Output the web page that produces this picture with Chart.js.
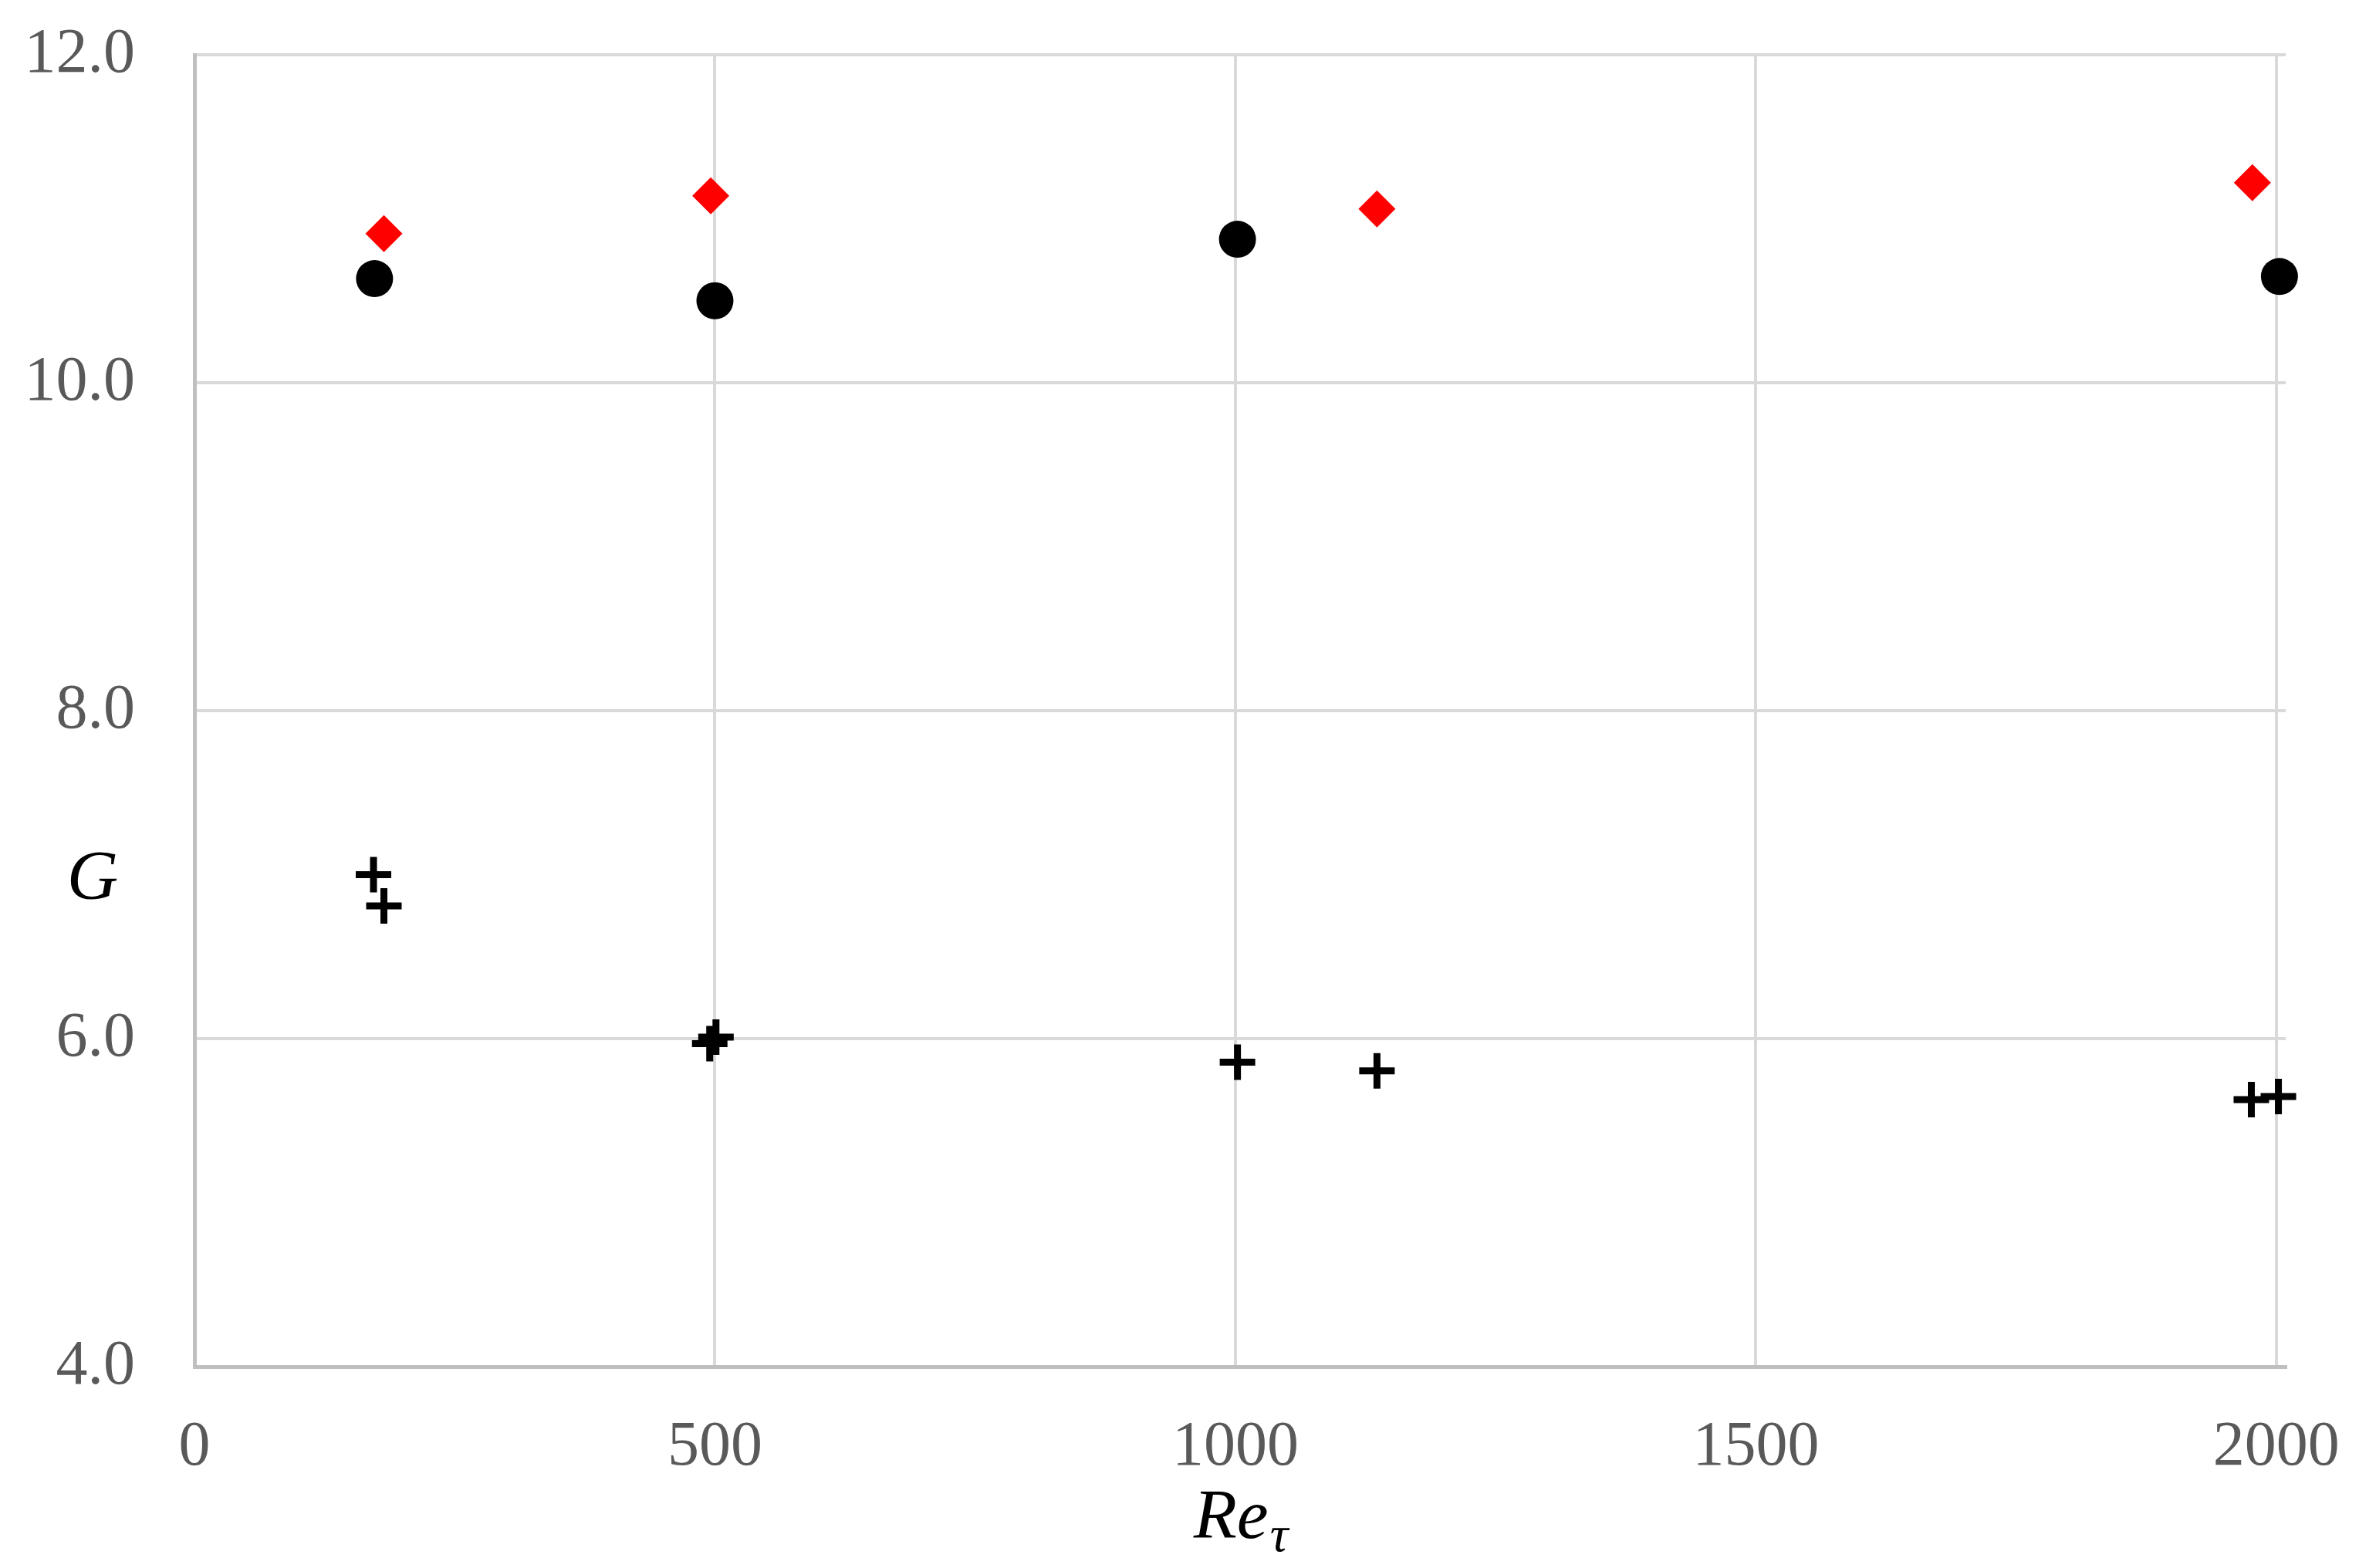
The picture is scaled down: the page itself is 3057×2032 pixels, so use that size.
<!DOCTYPE html>
<html>
<head>
<meta charset="utf-8">
<script src="https://cdn.jsdelivr.net/npm/chart.js@4.4.1/dist/chart.umd.min.js"></script>
<style>
  html, body { margin: 0; padding: 0; background: #ffffff; }
  #c { display: block; }
</style>
</head>
<body>
<canvas id="c" width="3057" height="2032" style="width:3057px;height:2032px"></canvas>
<script>
// ---- data ----
const circleX = [173, 500, 1002, 2003];
const circleY = [10.635, 10.50, 10.875, 10.648];

const diamondX = [182, 496, 1136, 1977];
const diamondY = [10.91, 11.14, 11.06, 11.22];

const crossX = [172, 182, 495, 501, 1002, 1136, 1976, 2002];
const crossY = [7.00, 6.81, 5.97, 6.01, 5.856, 5.804, 5.628, 5.647];

const xTicks = [0, 500, 1000, 1500, 2000];
const yTicks = [4, 6, 8, 10, 12];

const xTitleMain = 'Re';
const xTitleSub = 'τ';
const yTitle = 'G';

function pts(xs, ys) { return xs.map((x, i) => ({ x: x, y: ys[i] })); }

function zeroPad(scale) {
  scale.paddingTop = 0;
  scale.paddingBottom = 0;
  scale.paddingLeft = 0;
  scale.paddingRight = 0;
}

const titlesPlugin = {
  id: 'titles',
  afterDraw(chart) {
    const ctx = chart.ctx;
    const ca = chart.chartArea;
    ctx.save();
    ctx.fillStyle = '#000000';
    ctx.textBaseline = 'alphabetic';
    ctx.font = 'italic 92px "Liberation Serif"';
    const wMain = ctx.measureText(xTitleMain).width;
    ctx.font = 'italic 66px "Liberation Serif"';
    const wSub = ctx.measureText(xTitleSub).width;
    const total = wMain + wSub;
    const cx = (ca.left + ca.right) / 2;
    const x0 = cx - total / 2;
    ctx.font = 'italic 92px "Liberation Serif"';
    ctx.textAlign = 'left';
    ctx.fillText(xTitleMain, x0, 1993);
    ctx.font = 'italic 66px "Liberation Serif"';
    ctx.fillText(xTitleSub, x0 + wMain + 2, 2010);
    ctx.font = 'italic 92px "Liberation Serif"';
    ctx.textAlign = 'center';
    ctx.fillText(yTitle, 120, 1165);
    ctx.restore();
  }
};

new Chart(document.getElementById('c'), {
  type: 'scatter',
  data: {
    datasets: [
      {
        label: 'circles',
        data: pts(circleX, circleY),
        pointStyle: 'circle',
        pointRadius: 24,
        pointBackgroundColor: '#000000',
        pointBorderColor: '#000000',
        pointBorderWidth: 0,
        clip: false
      },
      {
        label: 'diamonds',
        data: pts(diamondX, diamondY),
        pointStyle: 'rectRot',
        pointRadius: 24,
        pointBackgroundColor: '#FF0000',
        pointBorderColor: '#FF0000',
        pointBorderWidth: 0,
        clip: false
      },
      {
        label: 'crosses',
        data: pts(crossX, crossY),
        pointStyle: 'cross',
        pointRadius: 23,
        pointBackgroundColor: '#000000',
        pointBorderColor: '#000000',
        pointBorderWidth: 9,
        clip: false
      }
    ]
  },
  options: {
    responsive: false,
    devicePixelRatio: 1,
    animation: false,
    events: [],
    layout: { autoPadding: false, padding: { top: 71, right: 95, left: 0, bottom: 0 } },
    plugins: {
      legend: { display: false },
      tooltip: { enabled: false },
      title: { display: false }
    },
    scales: {
      x: {
        type: 'linear',
        min: 0,
        max: 2009,
        afterFit(scale) { scale.height = 2032 - 1771; zeroPad(scale); },
        afterBuildTicks(scale) { scale.ticks = xTicks.map(v => ({ value: v })); },
        grid: { color: '#D9D9D9', lineWidth: 4, drawTicks: false },
        border: { color: '#BFBFBF', width: 5 },
        ticks: {
          color: '#595959',
          font: { family: 'Liberation Serif', size: 82 },
          padding: 56,
          maxRotation: 0,
          autoSkip: false,
          callback: (v) => String(v)
        }
      },
      y: {
        type: 'linear',
        min: 4,
        max: 12,
        afterFit(scale) { scale.width = 252; zeroPad(scale); },
        afterBuildTicks(scale) { scale.ticks = yTicks.map(v => ({ value: v })); },
        grid: { color: '#D9D9D9', lineWidth: 4, drawTicks: false },
        border: { color: '#BFBFBF', width: 5 },
        ticks: {
          color: '#595959',
          font: { family: 'Liberation Serif', size: 82 },
          padding: 77,
          autoSkip: false,
          callback: (v) => Number(v).toFixed(1)
        }
      }
    }
  },
  plugins: [titlesPlugin]
});
</script>
</body>
</html>
